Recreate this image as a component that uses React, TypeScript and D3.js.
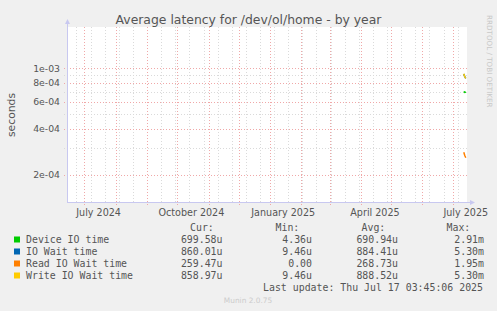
import React from "react";
import * as d3 from "d3";

// series (seconds), last few days of the year graph
const dates = ["2025-07-12", "2025-07-13", "2025-07-14"];
const deviceIO = [705e-6, 695e-6, 699.58e-6];
const ioWait = [918e-6, 882e-6, 860.01e-6];
const readWait = [282e-6, 268e-6, 259.47e-6];
const writeWait = [920e-6, 880e-6, 858.97e-6];

const seriesNames = ["Device IO time", "IO Wait time", "Read IO Wait time", "Write IO Wait time"];
const seriesColors = ["#00cc00", "#0066b3", "#ff8000", "#ffcc00"];
const curVals = ["699.58u", "860.01u", "259.47u", "858.97u"];
const minVals = ["4.36u", "9.46u", "0.00", "9.46u"];
const avgVals = ["690.94u", "884.41u", "268.73u", "888.52u"];
const maxVals = ["2.91m", "5.30m", "1.95m", "5.30m"];

const majorTicks = [2e-4, 4e-4, 6e-4, 8e-4, 1e-3];
const majorLabels = ["2e-04", "4e-04", "6e-04", "8e-04", "1e-03"];
const minorTicks = [3e-4, 5e-4, 7e-4, 9e-4];
const monthLabels = ["July 2024", "October 2024", "January 2025", "April 2025", "July 2025"];
const monthLabelDates = ["2024-07-15", "2024-10-15", "2025-01-14", "2025-04-15", "2025-07-14"];

const W = 497;
const H = 311;
const left = 67, right = 467, top = 27, bottom = 202;

const App = () => {
  const parse = (s: string) => {
    const [y, m, d] = s.split("-").map(Number);
    return new Date(y, m - 1, d);
  };
  const x = d3
    .scaleTime()
    .domain([new Date(2024, 5, 13, 16), new Date(2025, 6, 15, 5)])
    .range([left, right]);
  const y = d3.scaleLog().domain([1.33e-4, 1.865e-3]).range([bottom, top]);

  const months = d3.timeMonth.range(new Date(2024, 5, 14), new Date(2025, 6, 15));
  const weeks = d3.timeWeek.range(new Date(2024, 5, 23), new Date(2025, 6, 15), 2);

  const series = [deviceIO, ioWait, readWait, writeWait];
  const order = [0, 1, 2, 3];
  const line = d3
    .line<number>()
    .x((_, i) => x(parse(dates[i])))
    .y(v => y(v));

  const axisCol = "#c8c8f0";
  const txt = "#555";
  const mono = "'DejaVu Sans Mono', monospace";
  const sans = "'DejaVu Sans', sans-serif";
  const minorCol = "#dadada";
  const majorCol = "#f0a8a8";

  return (
    <svg width={W} height={H} style={{ position: "absolute", left: 0, top: 0 }}>
      <rect width={W} height={H} fill="#f0f0f0" />
      <rect x={left} y={top} width={right - left} height={bottom - top} fill="#fff" />

      {/* minor grid */}
      {weeks.map((d, i) => (
        <line key={"w" + i} x1={Math.round(x(d)) + 0.5} x2={Math.round(x(d)) + 0.5} y1={top} y2={bottom + 2}
          stroke={minorCol} strokeDasharray="1,2" />
      ))}
      {minorTicks.map((v, i) => (
        <line key={"m" + i} x1={left - 3} x2={right + 1} y1={Math.round(y(v)) + 0.5} y2={Math.round(y(v)) + 0.5}
          stroke={minorCol} strokeDasharray="1,2" />
      ))}
      {/* major grid */}
      {months.map((d, i) => (
        <line key={"M" + i} x1={Math.round(x(d)) + 0.5} x2={Math.round(x(d)) + 0.5} y1={top} y2={bottom + 3}
          stroke={majorCol} strokeDasharray="1,2" />
      ))}
      {majorTicks.map((v, i) => (
        <line key={"T" + i} x1={left - 3} x2={right + 1} y1={Math.round(y(v)) + 0.5} y2={Math.round(y(v)) + 0.5}
          stroke={majorCol} strokeDasharray="1,2" />
      ))}

      {/* axes */}
      <line x1={left + 0.5} x2={left + 0.5} y1={bottom} y2={top - 4} stroke={axisCol} />
      <path d={`M${left - 2},${top - 3} L${left + 3},${top - 3} L${left + 0.5},${top - 8} Z`} fill={axisCol} />
      <line x1={left} x2={right + 4} y1={bottom + 0.5} y2={bottom + 0.5} stroke={axisCol} />
      <path d={`M${right + 3},${bottom - 2} L${right + 3},${bottom + 3} L${right + 8},${bottom + 0.5} Z`} fill={axisCol} />

      {/* data */}
      {order.map(i => (
        <path key={"s" + i} d={line(series[i]) || ""} fill="none" stroke={seriesColors[i]} strokeWidth={1.5} />
      ))}

      {/* y labels */}
      {majorTicks.map((v, i) => (
        <text key={"yl" + i} x={60} y={y(v) + 3.3} textAnchor="end" fontFamily={sans} fontSize={9.3} fill={txt}>
          {majorLabels[i]}
        </text>
      ))}
      {/* x labels */}
      {monthLabels.map((l, i) => (
        <text key={"xl" + i} x={x(parse(monthLabelDates[i]))} y={216} textAnchor="middle" fontFamily={sans} fontSize={9.6} fill={txt}>
          {l}
        </text>
      ))}

      <text x={W / 2} y={23.5} textAnchor="middle" fontFamily={sans} fontSize={12.4} fill="#555">
        Average latency for /dev/ol/home - by year
      </text>
      <text transform="translate(14.5,115) rotate(-90)" textAnchor="middle" fontFamily={sans} fontSize={10.8} fill={txt}>
        seconds
      </text>
      <text transform="translate(487,15) rotate(90)" fontFamily={sans} fontSize={7.2} fill="#c8c8c8">
        RRDTOOL / TOBI OETIKER
      </text>

      {/* legend */}
      <g fontFamily={mono} fontSize={9.9} fill={txt}>
        <text x={190} y={231}>Cur:</text>
        <text x={275.5} y={231}>Min:</text>
        <text x={361.5} y={231}>Avg:</text>
        <text x={446.5} y={231}>Max:</text>
        {seriesNames.map((n, i) => (
          <g key={"lg" + i}>
            <rect x={14} y={236.5 + 12 * i} width={6} height={6} fill={seriesColors[i]} />
            <text x={26} y={243 + 12 * i}>{n}</text>
            <text x={222.5} y={243 + 12 * i} textAnchor="end">{curVals[i]}</text>
            <text x={312} y={243 + 12 * i} textAnchor="end">{minVals[i]}</text>
            <text x={398} y={243 + 12 * i} textAnchor="end">{avgVals[i]}</text>
            <text x={484} y={243 + 12 * i} textAnchor="end">{maxVals[i]}</text>
          </g>
        ))}
        <text x={483} y={291} textAnchor="end">Last update: Thu Jul 17 03:45:06 2025</text>
      </g>
      <text x={248} y={303} textAnchor="middle" fontFamily={sans} fontSize={7.4} fill="#cccccc">
        Munin 2.0.75
      </text>
    </svg>
  );
};

export default App;
